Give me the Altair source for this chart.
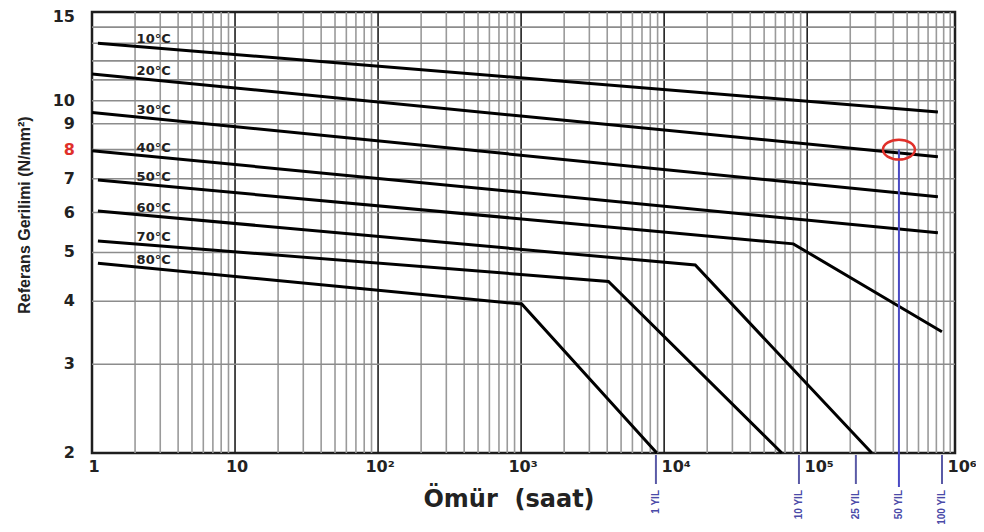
import math
import altair as alt
import pandas as pd

# ---- data ----
temps = ["10°C", "20°C", "30°C", "40°C", "50°C", "60°C", "70°C", "80°C"]
t10_h = [1.1, 820000];            t10_s = [13.0, 9.5]
t20_h = [1.0, 820000];            t20_s = [11.3, 7.74]
t30_h = [1.0, 820000];            t30_s = [9.48, 6.45]
t40_h = [1.0, 820000];            t40_s = [7.96, 5.47]
t50_h = [1.1, 80000, 875000];     t50_s = [6.96, 5.2, 3.48]
t60_h = [1.1, 16500, 283000];     t60_s = [6.04, 4.72, 2.0]
t70_h = [1.1, 4080, 66500];       t70_s = [5.27, 4.38, 2.0]
t80_h = [1.1, 1010, 8890];        t80_s = [4.76, 3.95, 2.0]
curves_h = [t10_h, t20_h, t30_h, t40_h, t50_h, t60_h, t70_h, t80_h]
curves_s = [t10_s, t20_s, t30_s, t40_s, t50_s, t60_s, t70_s, t80_s]
label_hour = 2.05

y_ticks = [2, 3, 4, 5, 6, 7, 8, 9, 10, 15]
y_grid = [3, 4, 5, 6, 7, 8, 9, 10, 11, 12, 13, 14]
x_decades = [1, 10, 100, 1000, 10000, 100000, 1000000]
x_tick_labels = ["1", "10", "10²", "10³", "10⁴", "10⁵", "10⁶"]

year_hours = [8760, 87600, 219000, 438000, 876000]
year_labels = ["1 YIL", "10 YIL", "25 YIL", "50 YIL", "100 YIL"]
marked_hours = 438000
marked_stress = 8

W, H = 863, 441
xs = alt.Scale(type="log", domain=[1, 1.08e6], nice=False)
ys = alt.Scale(type="log", domain=[2, 15], nice=False)

# ---- tables ----
rows = []
for t, hh, ss in zip(temps, curves_h, curves_s):
    for i, (h, s) in enumerate(zip(hh, ss)):
        rows.append({"temp": t, "i": i, "h": h, "s": s})
curves = pd.DataFrame(rows)

def first_seg(hh, ss, x):
    f = (math.log10(x) - math.log10(hh[0])) / (math.log10(hh[1]) - math.log10(hh[0]))
    return 10 ** (math.log10(ss[0]) + f * (math.log10(ss[1]) - math.log10(ss[0])))

labels = pd.DataFrame({
    "temp": temps,
    "h": [label_hour] * len(temps),
    "s": [first_seg(hh, ss, label_hour) for hh, ss in zip(curves_h, curves_s)],
})

minor_x, major_x = [], []
for d in x_decades[:-1]:
    for m in range(1, 10):
        v = d * m
        (major_x if (m == 1 and d > 1) else minor_x).append(v)
minor_x.append(1000000)
minor_df = pd.DataFrame({"h": [v for v in minor_x if v > 1]})
major_df = pd.DataFrame({"h": major_x})
hgrid_df = pd.DataFrame({"s": y_grid})

X = lambda: alt.X("h:Q", scale=xs, axis=None)
Y = lambda: alt.Y("s:Q", scale=ys, axis=None)

minor = alt.Chart(minor_df).mark_rule(color="#9a9a9a", strokeWidth=1.6).encode(x=X())
major = alt.Chart(major_df).mark_rule(color="#1e1e1e", strokeWidth=1.6).encode(x=X())
hgrid = alt.Chart(hgrid_df).mark_rule(color="#8c8c8c", strokeWidth=1.6).encode(y=Y())

lines = alt.Chart(curves).mark_line(color="black", strokeWidth=3).encode(
    x=X(), y=Y(), detail="temp:N", order="i:Q")

temp_text = alt.Chart(labels).mark_text(
    align="left", baseline="alphabetic", dy=-3, font="DejaVu Sans",
    fontWeight="bold", fontSize=13, color="#222").encode(x=X(), y=Y(), text="temp:N")

# y tick labels
ylab = pd.DataFrame({"s": y_ticks, "txt": [str(v) for v in y_ticks],
                     "c": ["#e0302a" if v == 8 else "#222222" for v in y_ticks]})
ytext = alt.Chart(ylab[ylab["s"] != 15]).mark_text(
    align="right", baseline="middle", font="DejaVu Sans", fontWeight="bold",
    fontSize=16).encode(y=Y(), x=alt.value(-17), text="txt:N",
                        color=alt.Color("c:N", scale=None))
ytext_top = alt.Chart(ylab[ylab["s"] == 15]).mark_text(
    align="right", baseline="middle", font="DejaVu Sans", fontWeight="bold",
    fontSize=16, dy=5).encode(y=Y(), x=alt.value(-17), text="txt:N",
                              color=alt.Color("c:N", scale=None))

# x tick labels
xlab = pd.DataFrame({"h": x_decades, "txt": x_tick_labels})
xtext1 = alt.Chart(xlab.iloc[:4]).mark_text(
    align="center", baseline="middle", font="DejaVu Sans", fontWeight="bold",
    fontSize=16, color="#222", dx=2).encode(x=X(), y=alt.value(455), text="txt:N")
xtext2 = alt.Chart(xlab.iloc[4:]).mark_text(
    align="center", baseline="middle", font="DejaVu Sans", fontWeight="bold",
    fontSize=16, color="#222", dx=12).encode(x=X(), y=alt.value(455), text="txt:N")

# year markers
yrs = pd.DataFrame({"h": year_hours, "txt": year_labels})
others = yrs[yrs["h"] != marked_hours]
yticks = alt.Chart(others).mark_rule(color="#5a5aa6", strokeWidth=2).encode(
    x=X(), y=alt.value(443), y2=alt.value(472))
mark_df = pd.DataFrame({"h": [marked_hours], "s": [marked_stress]})
mline = alt.Chart(mark_df).mark_rule(color="#4a4ac4", strokeWidth=2).encode(
    x=X(), y=Y(), y2=alt.value(475))
circle = alt.Chart(mark_df).mark_point(
    shape="M-1,0A1,0.62,0,1,0,1,0A1,0.62,0,1,0,-1,0Z", size=1024,
    filled=False, color="#e0302a", strokeWidth=2.5, opacity=1).encode(x=X(), y=Y())
ytxt = alt.Chart(yrs).mark_text(
    angle=270, align="right", baseline="middle", font="Liberation Sans Narrow, Liberation Sans",
    fontWeight="bold", fontSize=10, color="#4a4aa8").encode(
    x=X(), y=alt.value(478), text="txt:N")

# titles
xtitle = alt.Chart(pd.DataFrame({"t": ["Ömür\u00a0\u00a0(saat)"]})).mark_text(
    align="center", baseline="middle", font="DejaVu Sans", fontWeight="bold",
    fontSize=24, color="#222").encode(x=alt.value(417), y=alt.value(488), text="t:N")
ytitle = alt.Chart(pd.DataFrame({"t": ["Referans Gerilimi (N/mm²)"]})).mark_text(
    angle=270, align="center", baseline="middle",
    font="Liberation Sans Narrow, Liberation Sans", fontWeight="bold",
    fontSize=16, color="#222").encode(x=alt.value(-67), y=alt.value(203), text="t:N")

chart = alt.layer(
    minor, major, hgrid, lines, temp_text, ytext, ytext_top, xtext1, xtext2,
    yticks, mline, circle, ytxt, xtitle, ytitle
).properties(
    width=W, height=H,
    autosize=alt.AutoSizeParams(type="none"),
    padding={"left": 84, "top": 4, "right": 21, "bottom": 71},
    background="white",
).configure_view(stroke="#1e1e1e", strokeWidth=2.5)

chart.save("out.html", embed_options={"renderer": "svg", "actions": False})
